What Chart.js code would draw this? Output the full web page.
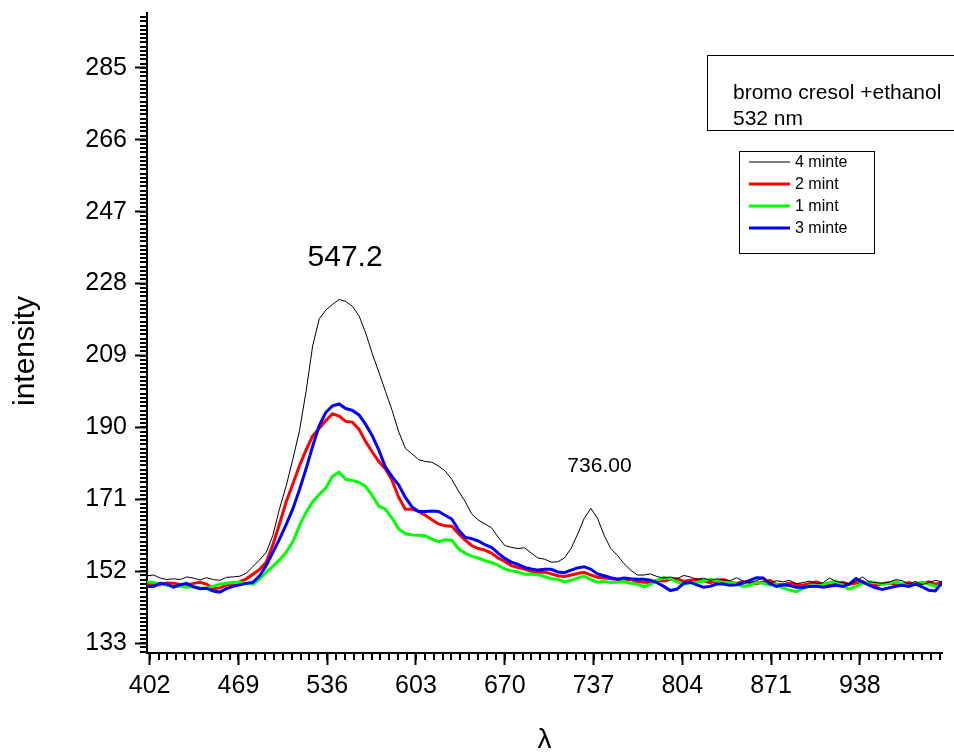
<!DOCTYPE html>
<html><head><meta charset="utf-8">
<script src="https://cdn.jsdelivr.net/npm/chart.js@4.4.0/dist/chart.umd.min.js"></script>
<style>html,body{margin:0;padding:0;background:#fff;overflow:hidden}</style>
</head><body>
<canvas id="c" width="954" height="752"></canvas>
<script>
const wavelengths = [
400,405,410,415,420,425,430,435,440,445,
450,455,460,465,470,475,480,485,490,495,
500,505,510,515,520,525,530,535,540,545,
550,555,560,565,570,575,580,585,590,595,
600,605,610,615,620,625,630,635,640,645,
650,655,660,665,670,675,680,685,690,695,
700,705,710,715,720,725,730,735,740,745,
750,755,760,765,770,775,780,785,790,795,
800,805,810,815,820,825,830,835,840,845,
850,855,860,865,870,875,880,885,890,895,
900,905,910,915,920,925,930,935,940,945,
950,955,960,965,970,975,980,985,990,995,
1000];

const series4minte = [
150.8,151.0,150.2,149.8,150.0,149.8,150.5,150.2,149.7,150.3,
149.8,149.6,150.4,150.5,150.7,151.5,153.3,155.0,157.0,161.5,
168.5,174.5,181.5,189.0,199.4,211.5,218.7,221.0,222.5,223.8,
223.3,222.0,219.5,215.0,209.5,204.6,199.5,194.5,188.8,184.5,
183.0,181.5,181.0,180.8,179.8,178.5,176.3,173.2,170.5,167.2,
165.5,164.5,163.5,161.0,158.8,158.3,158.0,158.2,156.8,155.5,
155.2,154.4,154.5,155.5,158.0,161.8,166.0,168.6,166.0,161.5,
158.0,156.2,154.0,152.3,151.0,151.0,151.3,150.6,150.2,150.5,
150.0,150.9,150.5,149.8,150.2,149.6,150.0,149.8,149.5,150.3,
149.4,149.0,149.5,150.2,149.0,149.5,149.2,149.6,148.7,149.0,
149.4,148.8,148.9,150.2,149.3,149.0,148.7,149.4,150.5,149.2,
149.0,148.8,149.1,149.8,149.5,148.6,149.3,148.5,149.0,149.6,
149.2];

const series2mint = [
148.6,148.6,148.4,148.9,148.8,148.5,148.3,148.8,149.1,148.6,
147.4,147.6,148.3,148.6,149.2,150.0,151.2,152.5,154.4,159.0,
164.5,170.3,175.0,179.8,184.0,187.7,189.8,191.8,193.6,193.0,
191.6,191.4,189.5,186.3,183.5,181.0,179.0,176.0,171.5,168.4,
168.4,167.8,166.8,165.6,164.5,164.0,163.9,162.0,160.3,158.8,
158.0,157.6,156.8,155.5,154.6,153.5,153.0,152.6,152.0,151.7,
151.8,151.3,150.8,150.6,151.0,151.4,151.7,151.0,150.4,150.2,
150.0,149.9,149.6,149.8,149.3,149.1,149.0,149.6,149.4,149.8,
150.0,149.3,149.6,149.9,149.5,149.0,149.4,149.8,149.2,148.8,
149.3,149.0,148.7,149.2,149.6,148.6,148.4,148.9,148.5,148.3,
148.8,149.2,148.6,148.2,148.7,149.1,148.5,148.9,149.3,148.6,
148.2,148.7,149.0,148.4,148.6,149.0,148.5,148.8,149.2,148.6,
149.0];

const series1mint = [
149.2,149.0,148.6,148.3,148.0,148.1,147.8,148.0,147.6,147.5,
148.0,148.6,148.8,149.0,149.1,148.8,148.6,150.0,151.8,153.3,
155.0,157.0,159.7,164.0,167.5,170.3,172.3,174.0,177.1,178.2,
176.3,176.0,175.5,174.4,172.0,169.2,168.4,166.0,163.2,161.9,
161.6,161.5,161.4,160.5,159.8,160.3,160.2,158.0,156.8,156.0,
155.5,154.8,154.3,153.6,152.6,152.1,151.8,151.2,151.2,151.1,
150.6,150.0,149.9,149.2,149.6,150.2,150.7,149.8,149.1,149.3,
149.0,149.1,149.3,148.8,148.6,147.9,148.5,149.6,150.4,150.0,
149.2,148.6,148.9,149.1,149.4,149.9,149.5,149.0,149.2,148.6,
148.0,148.3,149.0,148.8,148.4,148.6,147.6,147.0,146.6,147.4,
148.2,148.0,148.5,149.0,149.4,148.2,147.3,148.0,148.8,149.2,
149.0,148.5,148.8,149.3,148.6,148.2,148.7,149.1,148.6,148.0,
148.4];

const series3minte = [
148.0,148.0,148.8,148.6,147.8,148.4,148.8,147.9,147.4,147.5,
146.8,146.5,147.4,148.0,148.4,148.8,149.1,150.8,153.5,157.0,
160.5,164.3,168.4,173.5,179.0,185.0,190.5,194.0,195.7,196.2,
195.0,194.5,193.3,190.8,187.8,184.0,179.5,177.0,174.8,171.5,
169.0,167.8,167.8,167.9,167.8,166.8,165.8,163.0,161.0,160.6,
160.0,159.0,158.3,156.8,155.4,154.4,153.8,153.0,152.6,152.3,
152.5,152.5,151.8,151.6,152.3,152.9,153.2,152.5,151.3,150.8,
150.3,149.9,150.2,150.0,149.9,149.9,149.6,149.0,148.0,146.9,
147.3,148.8,149.1,148.4,147.8,148.0,148.6,148.6,148.3,148.4,
148.9,149.6,150.3,150.2,148.8,148.0,148.4,148.2,147.8,147.7,
148.0,148.1,147.8,148.0,148.3,148.0,148.6,150.1,149.2,148.3,
147.6,147.2,147.6,148.0,148.3,148.0,148.6,147.9,147.0,146.8,
149.0];

const xTickLabels = [402,469,536,603,670,737,804,871,938];
const yTickLabels = [133,152,171,190,209,228,247,266,285];
const seriesNames = ['4 minte','2 mint','1 mint','3 minte'];
const seriesColors = ['#000000','#ff0000','#00ff00','#0000ff'];
const seriesWidths = [1,3,3,3];
const peakLabels = ['547.2','736.00'];
const boxTitle = ['bromo cresol +ethanol','532 nm'];

const FONT = '"Liberation Sans", Arial, sans-serif';

function pts(arr){ return wavelengths.map((w,i)=>({x:w,y:arr[i]})); }

const allSeries = [series4minte, series2mint, series1mint, series3minte];
// draw order: black on top, then blue, green, red
const drawOrder = [0,3,2,1];
const datasets = drawOrder.map((k,idx)=>({
  label: seriesNames[k],
  data: pts(allSeries[k]),
  borderColor: seriesColors[k],
  borderWidth: seriesWidths[k],
  pointRadius: 0,
  tension: 0,
  fill: false,
  order: idx
}));

const decor = {
  id: 'decor',
  afterDraw(chart){
    const {ctx, chartArea: ca, scales:{x, y}} = chart;
    ctx.save();
    ctx.strokeStyle = '#000';
    ctx.lineWidth = 2;
    ctx.beginPath();
    // minor x ticks
    const xStep = (xTickLabels[1]-xTickLabels[0])/10;
    for (let v = xTickLabels[0]; v <= x.max + 1e-6; v += xStep) {
      const px = Math.round(x.getPixelForValue(v));
      ctx.moveTo(px, ca.bottom); ctx.lineTo(px, ca.bottom + 7);
    }
    // minor y ticks
    const yStep = (yTickLabels[1]-yTickLabels[0])/17;
    for (let v = yTickLabels[0]; v <= y.max; v += yStep) {
      const py = Math.round(y.getPixelForValue(v));
      ctx.moveTo(ca.left, py); ctx.lineTo(ca.left - 7, py);
    }
    for (let v = yTickLabels[0] - yStep; v >= y.min; v -= yStep) {
      const py = Math.round(y.getPixelForValue(v));
      ctx.moveTo(ca.left, py); ctx.lineTo(ca.left - 7, py);
    }
    ctx.stroke();

    ctx.fillStyle = '#000';
    // peak labels
    ctx.textAlign = 'center';
    ctx.textBaseline = 'alphabetic';
    ctx.font = '30px ' + FONT;
    ctx.fillText(peakLabels[0], x.getPixelForValue(549.5), y.getPixelForValue(232.7));
    ctx.font = '21px ' + FONT;
    ctx.fillText(peakLabels[1], x.getPixelForValue(741.5), y.getPixelForValue(178.3));

    // axis titles
    ctx.font = '30px ' + FONT;
    ctx.textBaseline = 'middle';
    ctx.save();
    ctx.translate(26, 351);
    ctx.rotate(-Math.PI/2);
    ctx.fillText('intensity', 0, 0);
    ctx.restore();
    ctx.font = '28px ' + FONT;
    ctx.fillText('λ', (ca.left + ca.right)/2, 740);

    // title box
    ctx.lineWidth = 1;
    ctx.strokeStyle = '#000';
    ctx.strokeRect(707.5, 55.5, 260, 75);
    ctx.textAlign = 'left';
    ctx.textBaseline = 'alphabetic';
    ctx.font = '21px ' + FONT;
    ctx.fillText(boxTitle[0], 733, 99);
    ctx.fillText(boxTitle[1], 733, 125);

    // legend box
    ctx.strokeRect(739.5, 151.5, 135, 102);
    ctx.font = '16px ' + FONT;
    ctx.textBaseline = 'middle';
    for (let k = 0; k < seriesNames.length; k++) {
      const ly = 162 + k*22;
      ctx.strokeStyle = seriesColors[k];
      ctx.lineWidth = seriesWidths[k];
      ctx.beginPath();
      ctx.moveTo(749, ly); ctx.lineTo(790, ly);
      ctx.stroke();
      ctx.fillText(seriesNames[k], 795, ly + 1);
    }
    ctx.restore();
  }
};

new Chart(document.getElementById('c'), {
  type: 'line',
  data: { datasets },
  options: {
    responsive: false,
    animation: false,
    devicePixelRatio: 1,
    layout: { padding: { left: 0, top: 13, right: 12, bottom: 0 } },
    plugins: { legend: { display: false }, tooltip: { enabled: false } },
    scales: {
      x: {
        type: 'linear',
        min: 400, max: 1000,
        afterBuildTicks: s => { s.ticks = xTickLabels.map(v => ({value: v})); },
        afterFit: s => { s.height = 99; s.paddingLeft = 0; s.paddingRight = 0; },
        ticks: { autoSkip: false, maxRotation: 0, padding: 6, color: '#000', font: { family: FONT, size: 25 } },
        grid: { display: true, drawOnChartArea: false, drawTicks: true, tickLength: 12, tickWidth: 2, color: '#000' },
        border: { display: true, color: '#000', width: 2 }
      },
      y: {
        type: 'linear',
        min: 130.4, max: 299.5,
        afterBuildTicks: s => { s.ticks = yTickLabels.map(v => ({value: v})); },
        afterFit: s => { s.width = 147; s.paddingTop = 0; s.paddingBottom = 0; },
        ticks: { autoSkip: false, padding: 8, color: '#000', font: { family: FONT, size: 25 } },
        grid: { display: true, drawOnChartArea: false, drawTicks: true, tickLength: 12, tickWidth: 2, color: '#000' },
        border: { display: true, color: '#000', width: 2 }
      }
    }
  },
  plugins: [decor]
});
</script>
</body></html>
